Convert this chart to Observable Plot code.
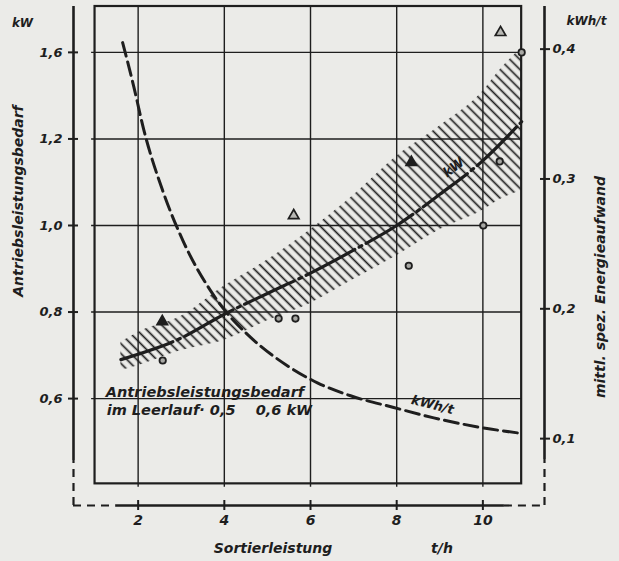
<!DOCTYPE html>
<html><head><meta charset="utf-8">
<script src="https://cdn.jsdelivr.net/npm/d3@7"></script>
<script src="https://cdn.jsdelivr.net/npm/@observablehq/plot@0.6"></script>
<style>
html,body{margin:0;padding:0;background:#ebebe8;}
svg{display:block;}
</style></head><body><div id="chart"></div>
<script>
// ---- tick values and labels ----
const xTicks = [2, 4, 6, 8, 10];
const xTickLabels = ["2", "4", "6", "8", "10"];
const kwTicks = [0.6, 0.8, 1.0, 1.2, 1.4];
const kwTickLabels = ["0,6", "0,8", "1,0", "1,2", "1,6"];
const kwhTicks = [0.1, 0.2, 0.3, 0.4];
const kwhTickLabels = ["0,1", "0,2", "0,3", "0,4"];

// ---- kW trend line (Antriebsleistungsbedarf) ----
const kwLineX = [1.6, 3, 4, 5, 6, 7, 8, 9, 10, 10.9];
const kwLineY = [0.69, 0.74, 0.795, 0.843, 0.89, 0.943, 1.00, 1.072, 1.15, 1.24];

// ---- hatched scatter band ----
const bandX    = [1.6, 2, 3, 4, 5, 6, 7, 8, 9, 10, 10.4, 10.9];
const bandLow  = [0.665, 0.676, 0.711, 0.735, 0.78, 0.82, 0.875, 0.93, 0.99, 1.035, 1.06, 1.08];
const bandHigh = [0.73, 0.753, 0.79, 0.86, 0.92, 0.99, 1.07, 1.16, 1.23, 1.31, 1.36, 1.41];

// ---- kWh/t curve (mittl. spez. Energieaufwand) ----
const kwhX = [1.64, 1.90, 2.13, 2.57, 3.06, 3.68, 4.03, 4.61, 5.47, 6.16, 6.93, 7.93, 8.86, 9.88, 10.9];
const kwhY = [0.405, 0.371, 0.338, 0.291, 0.251, 0.214, 0.198, 0.178, 0.156, 0.143, 0.133, 0.124, 0.116, 0.109, 0.104];

// ---- measured points ----
const circleX = [2.57, 5.26, 5.65, 8.28, 10.01, 10.39, 10.9];
const circleY = [0.688, 0.785, 0.785, 0.907, 1.0, 1.148, 1.4];
const triX = [2.56, 5.61, 8.34, 10.41];
const triY = [0.778, 1.023, 1.146, 1.446];
const triFilled = [true, false, true, false];

// ---- texts ----
const yTitleLeft = "Antriebsleistungsbedarf";
const yUnitLeft = "kW";
const yTitleRight = "mittl. spez. Energieaufwand";
const yUnitRight = "kWh/t";
const xTitle = "Sortierleistung";
const xUnit = "t/h";
const noteLine1 = "Antriebsleistungsbedarf";
const noteLine2 = "im Leerlauf· 0,5    0,6 kW";
const lineLabelKw = "kW";
const lineLabelKwh = "kWh/t";

// secondary (right) axis expressed on the kW scale
const toKw = v => 0.2075 + 3 * v;

const ink = "#1e1e1e";
const paper = "#ebebe8";
const xMin = 0.5, xMax = 11.43, yMin = 0.353, yTop = 1.506;
const fx1 = 1.0, fx2 = 10.9, fy1 = 0.403;

const lineData = kwLineX.map((x, i) => ({x, y: kwLineY[i]}));
const bandData = bandX.map((x, i) => ({x, lo: bandLow[i], hi: bandHigh[i]}));
const kwhData = kwhX.map((x, i) => ({x, y: toKw(kwhY[i])}));
const circles = circleX.map((x, i) => ({x, y: circleY[i]}));
const tris = triX.map((x, i) => ({x, y: triY[i], filled: triFilled[i]}));

const font = {fontFamily: "DejaVu Sans", fontStyle: "italic", fontWeight: "bold", fill: ink};
const center = {textAnchor: "middle", lineAnchor: "middle"};

const chart = Plot.plot({
  width: 619, height: 561,
  marginLeft: 73, marginRight: 75, marginTop: 6, marginBottom: 56,
  x: {domain: [xMin, xMax]},
  y: {domain: [yMin, yTop]},
  style: {background: paper, color: ink, fontFamily: "DejaVu Sans", overflow: "visible"},
  marks: [
    // hatched band
    Plot.areaY(bandData, {x: "x", y1: "lo", y2: "hi", fill: "url(#hatch)", curve: "monotone-x"}),
    // grid
    Plot.ruleX(xTicks, {y1: 0.395, y2: yTop, stroke: ink, strokeWidth: 1.4}),
    Plot.ruleY(kwTicks, {x1: 0.92, x2: fx2, stroke: ink, strokeWidth: 1.4}),
    // inner frame
    Plot.rect([0], {x1: fx1, x2: fx2, y1: fy1, y2: yTop, fill: "none", stroke: ink, strokeWidth: 2.2}),
    // outer axes lines
    Plot.ruleX([xMin], {y1: 0.457, y2: yTop, stroke: ink, strokeWidth: 2.6}),
    Plot.ruleX([xMin], {y1: yMin, y2: 0.457, stroke: ink, strokeWidth: 2.2, strokeDasharray: "8,6"}),
    Plot.ruleX([xMax], {y1: 0.459, y2: yTop, stroke: ink, strokeWidth: 2.6}),
    Plot.ruleX([xMax], {y1: yMin, y2: 0.459, stroke: ink, strokeWidth: 2.2, strokeDasharray: "8,6"}),
    Plot.ruleY([yMin], {x1: 1.48, x2: 10.5, stroke: ink, strokeWidth: 2.6}),
    Plot.ruleY([yMin], {x1: xMin, x2: 1.48, stroke: ink, strokeWidth: 2.2, strokeDasharray: "8,6"}),
    Plot.ruleY([yMin], {x1: 10.5, x2: xMax, stroke: ink, strokeWidth: 2.2, strokeDasharray: "8,6"}),
    // axes (ticks crossing the axis lines)
    Plot.axisY(kwTicks, {anchor: "left", tickSize: 10, dx: 5, tickPadding: 6, strokeWidth: 2, label: null,
      tickFormat: d => kwTickLabels[kwTicks.indexOf(d)], fontSize: 13, ...font}),
    Plot.axisY(kwhTicks.map(toKw), {anchor: "right", tickSize: 10, dx: -5, tickPadding: 3, strokeWidth: 2, label: null,
      tickFormat: d => kwhTickLabels[kwhTicks.findIndex(t => Math.abs(toKw(t) - d) < 1e-9)], fontSize: 13, ...font}),
    Plot.axisX(xTicks, {anchor: "bottom", tickSize: 10, dy: -5, tickPadding: 5, strokeWidth: 2, label: null,
      tickFormat: d => xTickLabels[xTicks.indexOf(d)], fontSize: 14, ...font}),
    // curves
    Plot.line(kwhData, {x: "x", y: "y", curve: "monotone-x", stroke: ink, strokeWidth: 3, strokeDasharray: "14,6"}),
    Plot.line(lineData, {x: "x", y: "y", curve: "monotone-x", stroke: ink, strokeWidth: 3.2, strokeDasharray: "55,5,3,5"}),
    // points
    Plot.dot(circles, {x: "x", y: "y", r: 3.2, stroke: ink, strokeWidth: 1.8, fill: "#a8a8a4"}),
    Plot.dot(tris, {x: "x", y: "y", symbol: "triangle", r: 3.9, stroke: ink, strokeWidth: 1.7,
      fill: d => d.filled ? ink : "#b8b8b4"}),
    // on-chart labels
    Plot.text([lineLabelKw], {x: 9.32, y: 1.134, text: d => d, rotate: -37, fontSize: 13, ...font}),
    Plot.text([lineLabelKwh], {x: 8.83, y: toKw(0.126), text: d => d, rotate: 14, fontSize: 13, ...font}),
    Plot.text([noteLine1], {x: 1.25, y: 0.6, text: d => d, textAnchor: "start", lineAnchor: "bottom", dy: -2, fontSize: 14.5, ...font}),
    Plot.text([noteLine2], {x: 1.27, y: 0.6, text: d => d, textAnchor: "start", lineAnchor: "top", dy: 6, fontSize: 14.5, ...font}),
    // axis titles and units
    Plot.text([yUnitLeft], {frameAnchor: "top-left", text: d => d, dx: -51, dy: 17, fontSize: 12, ...center, ...font}),
    Plot.text([yTitleLeft], {frameAnchor: "left", text: d => d, dx: -55, dy: -55, rotate: -90, fontSize: 14, ...center, ...font}),
    Plot.text([yUnitRight], {frameAnchor: "top-right", text: d => d, dx: 42, dy: 15, fontSize: 12, ...center, ...font}),
    Plot.text([yTitleRight], {frameAnchor: "right", text: d => d, dx: 56, dy: 31, rotate: -90, fontSize: 14, ...center, ...font}),
    Plot.text([xTitle], {frameAnchor: "bottom", text: d => d, dx: -36, dy: 43, fontSize: 14, ...center, ...font}),
    Plot.text([xUnit], {frameAnchor: "bottom", text: d => d, dx: 133, dy: 43, fontSize: 14, ...center, ...font})
  ]
});

const ns = "http://www.w3.org/2000/svg";
const defs = document.createElementNS(ns, "defs");
defs.innerHTML = `<pattern id="hatch" patternUnits="userSpaceOnUse" width="7" height="7" patternTransform="rotate(-45)"><line x1="3.5" y1="-1" x2="3.5" y2="8" stroke="${ink}" stroke-width="1.7"/></pattern>`;
chart.insertBefore(defs, chart.firstChild);
document.getElementById("chart").appendChild(chart);
</script>
</body></html>
